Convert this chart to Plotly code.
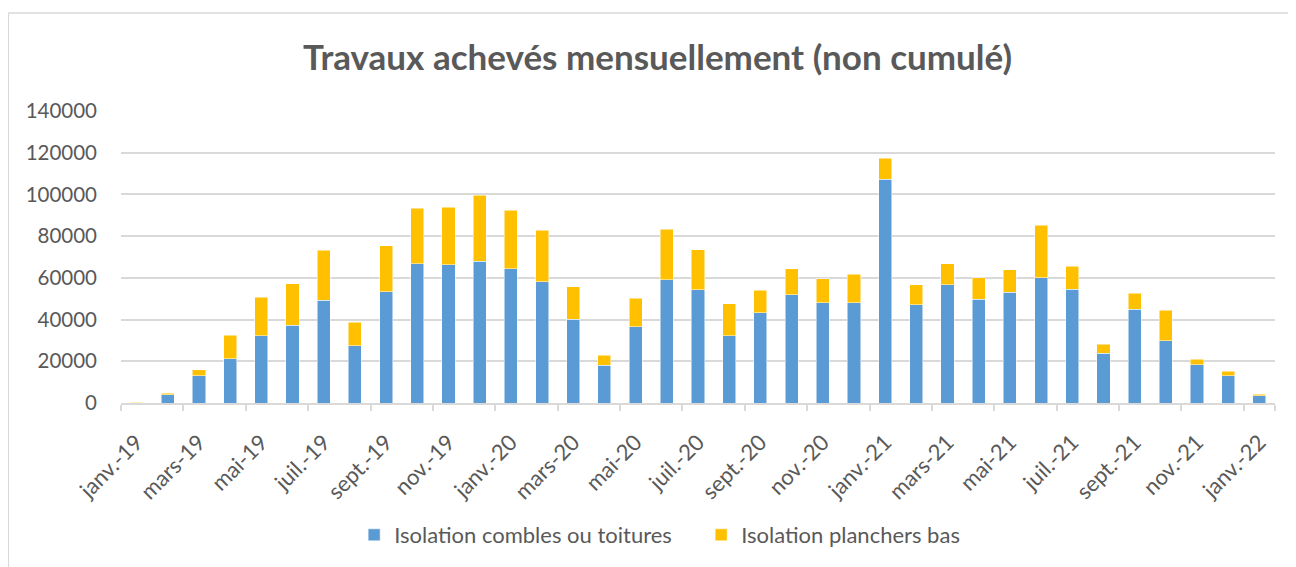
import plotly.graph_objects as go

months = ["janv.-19", "févr.-19", "mars-19", "avr.-19", "mai-19", "juin-19", "juil.-19", "août-19",
          "sept.-19", "oct.-19", "nov.-19", "déc.-19", "janv.-20", "févr.-20", "mars-20", "avr.-20",
          "mai-20", "juin-20", "juil.-20", "août-20", "sept.-20", "oct.-20", "nov.-20", "déc.-20",
          "janv.-21", "févr.-21", "mars-21", "avr.-21", "mai-21", "juin-21", "juil.-21", "août-21",
          "sept.-21", "oct.-21", "nov.-21", "déc.-21", "janv.-22"]

combles = [150, 4000, 12960, 21120, 32160, 37280, 49280, 27360,
           53440, 66720, 66240, 68000, 64320, 58080, 40160, 18080,
           36640, 59040, 54240, 32320, 43200, 51840, 48000, 48160,
           107360, 47200, 56640, 49760, 53120, 60000, 54560, 23840,
           44960, 29760, 18240, 12960, 3520]

totals = [300, 4640, 16000, 32480, 50720, 57280, 73280, 38720,
          75360, 93280, 93920, 99520, 92480, 82880, 55680, 22880,
          50240, 83200, 73440, 47520, 54080, 64480, 59680, 61760,
          117440, 56800, 66880, 60160, 64000, 85120, 65600, 28160,
          52640, 44480, 20960, 15200, 4160]

planchers = [t - c for t, c in zip(totals, combles)]

y_ticks = [0, 20000, 40000, 60000, 80000, 100000, 120000, 140000]

x_idx = list(range(len(months)))
label_idx = x_idx[::2]
label_text = months[::2]

FONT = "Lato"
TXT = "#595959"
GRID = "#d9d9d9"

fig = go.Figure()
fig.add_trace(go.Bar(x=x_idx, y=combles, name="Isolation combles ou toitures",
                     marker=dict(color="#5B9BD5", line=dict(color="white", width=0.5)),
                     width=0.42))
fig.add_trace(go.Bar(x=x_idx, y=planchers, name="Isolation planchers bas",
                     marker=dict(color="#FFC000", line=dict(color="white", width=0.5)),
                     width=0.42))

OFF = 8  # page body margin
SW, SH = 1296, 567
W, H = SW - OFF, SH - OFF
PL, PR, PT, PB = 120.7, 1275, 111, 403  # plot area in screen px
L, R, T, B = PL - OFF, SW - PR, PT - OFF, SH - PB
pw, ph = PR - PL, PB - PT

def px(x):
    return (x - PL) / pw

def py(y):
    return (PB - y) / ph

fig.update_layout(
    width=W, height=H,
    barmode="stack",
    paper_bgcolor="white", plot_bgcolor="white",
    margin=dict(l=L, r=R, t=T, b=B, pad=0, autoexpand=False),
    font=dict(family=FONT, color=TXT, size=20),
    title=dict(text="<b>Travaux achevés mensuellement (non cumulé)</b>",
               font=dict(family=FONT, size=35, color=TXT),
               x=(657.5 - OFF) / W, xanchor="center", xref="container",
               y=1 - (58 - OFF) / H, yanchor="middle", yref="container"),
    xaxis=dict(range=[-0.5, len(months) - 0.5], tickmode="array",
               tickvals=label_idx, ticktext=label_text, tickangle=-45,
               ticks="", showgrid=False, zeroline=False,
               showline=True, linecolor=GRID, linewidth=1.5,
               ticklabelstandoff=16,
               tickfont=dict(family=FONT, size=22, color=TXT),
               minor=dict(tickmode="array", tickvals=[i - 0.5 for i in label_idx] + [len(months) - 0.5],
                          ticks="outside", ticklen=6, tickcolor=GRID, tickwidth=1.5, showgrid=False)),
    yaxis=dict(range=[0, 140000], tickmode="array", tickvals=y_ticks,
               ticktext=[str(v) for v in y_ticks], showgrid=True, gridcolor=GRID,
               gridwidth=1.5, zeroline=False, showline=False, ticks="",
               ticklabelstandoff=23,
               tickfont=dict(family=FONT, size=20.5, color=TXT)),
    legend=dict(orientation="h", x=px(701), xanchor="center",
                y=py(535), yanchor="middle",
                font=dict(family=FONT, size=22, color=TXT), traceorder="normal",
                itemwidth=30, entrywidth=302, entrywidthmode="pixels"),
    showlegend=True,
)

fig.add_shape(type="line", xref="paper", yref="paper",
              x0=px(8), x1=px(8), y0=py(13), y1=py(SH), line=dict(color=GRID, width=1.5))
fig.add_shape(type="line", xref="paper", yref="paper",
              x0=px(8), x1=px(SW), y0=py(13), y1=py(13), line=dict(color=GRID, width=1.5))

fig.write_html("out.html")
